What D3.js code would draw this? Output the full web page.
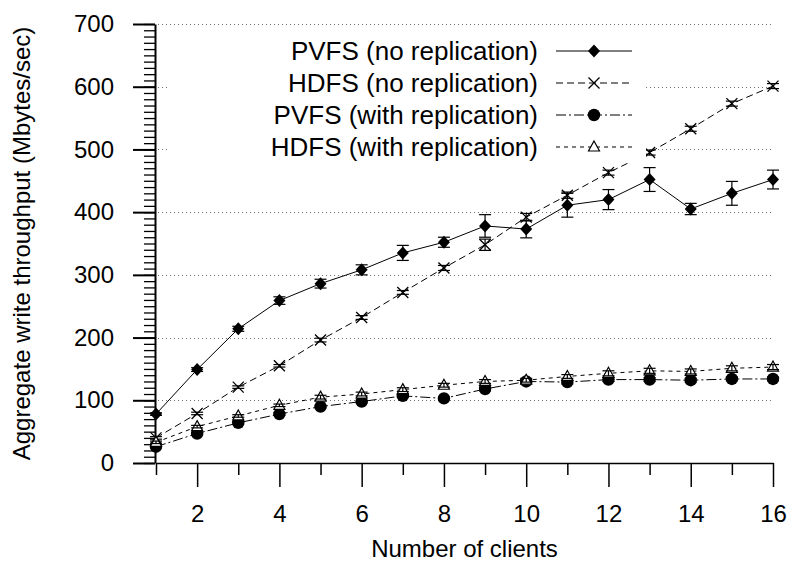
<!DOCTYPE html>
<html>
<head>
<meta charset="utf-8">
<script src="https://cdn.jsdelivr.net/npm/d3@7"></script>
<style>
  body { margin: 0; background: #fff; }
  text { font-family: "Liberation Sans", Arial, sans-serif; }
</style>
</head>
<body>
<script>
// number of clients
const clients = d3.range(1, 17);

// aggregate write throughput (Mbytes/sec)
const pvfsNoRep = [78, 149, 214, 259, 286, 308, 335, 352, 378, 373, 411, 420, 452, 405, 430, 452];
const pvfsNoRepErr = [2, 3, 4, 6, 7, 8, 12, 8, 18, 14, 19, 16, 19, 9, 19, 15];
const hdfsNoRep = [40, 79, 121, 155, 196, 232, 272, 311, 348, 392, 427, 463, 495, 533, 573, 601];
const hdfsNoRepErr = [2, 2, 2, 2, 3, 3, 3, 4, 9, 6, 5, 4, 4, 4, 4, 4];
const pvfsRep = [26, 47, 64, 78, 90, 98, 107, 103, 118, 130, 129, 133, 133, 132, 134, 134];
const pvfsRepErr = [2, 2, 2, 2, 2, 2, 2, 2, 3, 3, 3, 3, 3, 3, 3, 3];
const hdfsRep = [33, 58, 75, 92, 105, 110, 117, 124, 130, 132, 138, 143, 147, 146, 151, 153];
const hdfsRepErr = [2, 2, 2, 2, 3, 3, 3, 3, 3, 3, 3, 4, 4, 4, 4, 4];

const yTicks = [0, 100, 200, 300, 400, 500, 600, 700];
const xMajorTicks = [2, 4, 6, 8, 10, 12, 14, 16];
const xMinorTicks = [1, 3, 5, 7, 9, 11, 13, 15];

const series = [
  {name: "PVFS (no replication)", values: pvfsNoRep, err: pvfsNoRepErr, dash: null, marker: "diamond"},
  {name: "HDFS (no replication)", values: hdfsNoRep, err: hdfsNoRepErr, dash: "7,4", marker: "cross"},
  {name: "PVFS (with replication)", values: pvfsRep, err: pvfsRepErr, dash: "10,3,2,3", marker: "circle"},
  {name: "HDFS (with replication)", values: hdfsRep, err: hdfsRepErr, dash: "4,4", marker: "triangle"}
];

const width = 793, height = 567;
const marginLeft = 156, marginRight = 20, marginTop = 24, marginBottom = 104;
const fontSize = 24;

const x = d3.scaleLinear([1, 16], [marginLeft, width - marginRight]);
const y = d3.scaleLinear([0, 700], [height - marginBottom, marginTop]);

const svg = d3.select("body").append("svg")
    .attr("width", width)
    .attr("height", height)
    .attr("viewBox", [0, 0, width, height]);

// dotted grid
svg.append("g")
    .attr("stroke", "#707070")
    .attr("stroke-dasharray", "1,3")
    .selectAll("line")
    .data(yTicks.slice(1))
    .join("line")
    .attr("x1", x(1) + 2)
    .attr("x2", x(16))
    .attr("y1", d => Math.round(y(d)) + 0.5)
    .attr("y2", d => Math.round(y(d)) + 0.5);

// x axis
svg.append("g")
    .attr("transform", `translate(0,${y(0)})`)
    .call(d3.axisBottom(x).tickValues(xMinorTicks).tickSize(12).tickFormat("").tickSizeOuter(0))
    .call(g => g.selectAll("line,path").attr("stroke-width", 1.5));
svg.append("g")
    .attr("transform", `translate(0,${y(0)})`)
    .call(d3.axisBottom(x).tickValues(xMajorTicks).tickSize(24).tickPadding(18).tickSizeOuter(0))
    .call(g => g.select(".domain").remove())
    .call(g => g.selectAll("line").attr("stroke-width", 1.5))
    .call(g => g.selectAll("text").attr("font-size", fontSize).attr("fill", "#000"));

// y axis
svg.append("g")
    .attr("transform", `translate(${x(1) - 1},0)`)
    .call(d3.axisLeft(y).ticks(70).tickSize(11).tickFormat("").tickSizeOuter(0))
    .call(g => g.selectAll("line").attr("stroke-width", 1.3))
    .call(g => g.select(".domain").attr("stroke-width", 2));
svg.append("g")
    .attr("transform", `translate(${x(1) - 1},0)`)
    .call(d3.axisLeft(y).tickValues(yTicks).tickSize(22).tickPadding(19).tickSizeOuter(0))
    .call(g => g.select(".domain").remove())
    .call(g => g.selectAll("line").attr("stroke-width", 2))
    .call(g => g.selectAll("text").attr("font-size", fontSize).attr("fill", "#000"));

// axis titles
svg.append("text")
    .attr("x", (x(1) + x(16)) / 2)
    .attr("y", 557)
    .attr("text-anchor", "middle")
    .attr("font-size", fontSize)
    .text("Number of clients");
svg.append("text")
    .attr("transform", `translate(30,${(y(0) + y(700)) / 2}) rotate(-90)`)
    .attr("text-anchor", "middle")
    .attr("font-size", fontSize)
    .text("Aggregate write throughput (Mbytes/sec)");

const markers = {
  diamond: g => g.append("path").attr("d", "M0,-6.5L6,0L0,6.5L-6,0Z").attr("fill", "#000"),
  cross: g => g.append("path").attr("d", "M-5.5,-5.5L5.5,5.5M-5.5,5.5L5.5,-5.5")
      .attr("stroke", "#000").attr("stroke-width", 1.3).attr("fill", "none"),
  circle: g => g.append("circle").attr("r", 6.2).attr("fill", "#000"),
  triangle: g => g.append("path").attr("d", "M0,-6L5.5,4L-5.5,4Z")
      .attr("fill", "#fff").attr("stroke", "#000").attr("stroke-width", 1.2)
};

const line = d3.line().x((d, i) => x(clients[i])).y(d => y(d));

series.forEach(s => {
  const g = svg.append("g");
  g.append("path")
      .attr("fill", "none")
      .attr("stroke", "#000")
      .attr("stroke-width", 1)
      .attr("stroke-dasharray", s.dash)
      .attr("d", line(s.values));

  g.selectAll(".pt")
    .data(s.values)
    .join("g")
    .attr("class", "pt")
    .attr("transform", (d, i) => `translate(${x(clients[i])},${y(d)})`)
    .each(function() { markers[s.marker](d3.select(this)); });

  // error bars
  const eb = g.append("g").attr("stroke", "#000").attr("stroke-width", 1.2);
  s.values.forEach((v, i) => {
    const cx = x(clients[i]), lo = y(v - s.err[i]), hi = y(v + s.err[i]);
    eb.append("line").attr("x1", cx).attr("x2", cx).attr("y1", lo).attr("y2", hi);
    eb.append("line").attr("x1", cx - 6).attr("x2", cx + 6).attr("y1", lo).attr("y2", lo);
    eb.append("line").attr("x1", cx - 6).attr("x2", cx + 6).attr("y1", hi).attr("y2", hi);
  });
});

// legend (opaque box over the grid)
const legend = svg.append("g");
legend.append("rect")
    .attr("x", 168).attr("y", 33)
    .attr("width", 478).attr("height", 130)
    .attr("fill", "#fff");
series.forEach((s, i) => {
  const ly = 51 + i * 32;
  legend.append("text")
      .attr("x", 538).attr("y", ly + 9)
      .attr("text-anchor", "end")
      .attr("font-size", 26)
      .text(s.name);
  legend.append("line")
      .attr("x1", 556).attr("x2", 632)
      .attr("y1", ly).attr("y2", ly)
      .attr("stroke", "#000")
      .attr("stroke-dasharray", s.dash);
  const m = legend.append("g").attr("transform", `translate(594,${ly})`);
  markers[s.marker](m);
});
</script>
</body>
</html>
